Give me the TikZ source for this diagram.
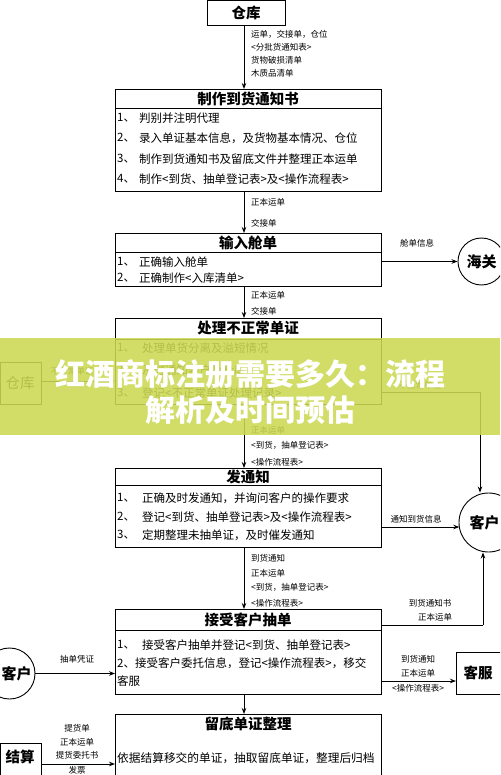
\documentclass[tikz,border=0pt]{standalone}
\usepackage{fontspec}
\setmainfont{Noto Sans CJK SC}
\usetikzlibrary{arrows.meta}
\definecolor{banner}{RGB}{203,217,82}
\tikzset{
  box/.style={draw=black, line width=0.9pt, inner sep=0pt, anchor=north west},
  ttl/.style={font=\bfseries\fontsize{14.5}{16}\selectfont, inner sep=0pt},
  itm/.style={font=\fontsize{11.5}{13}\selectfont, anchor=west, inner sep=0pt},
  lbl/.style={font=\fontsize{8.5}{10}\selectfont, anchor=west, inner sep=0pt},
  clbl/.style={font=\fontsize{8.5}{10}\selectfont, inner sep=0pt},
  circ/.style={draw=black, line width=0.9pt, circle, inner sep=0pt, font=\bfseries\fontsize{15}{16}\selectfont},
  arr/.style={draw=black, line width=0.9pt, -{Stealth[length=6pt,width=4.5pt]}},
  ln/.style={draw=black, line width=0.9pt},
  bantxt/.style={text=white, font=\bfseries\fontsize{30}{32}\selectfont, inner sep=0pt}
}
\begin{document}
\begin{tikzpicture}[x=1pt,y=-1pt]
\useasboundingbox (0,0) rectangle (500,775);
\clip (0,0) rectangle (500,775);
\fill[white] (0,0) rectangle (500,775);

% top warehouse
\node[box, minimum width=78pt, minimum height=24.5pt] (ck) at (207,0.5) {};
\node[ttl] at (246,13) {仓库};

% box 2
\node[box, minimum width=266pt, minimum height=102pt] (b2) at (115,89) {};
\draw[ln] (115,108) -- (381,108);
\node[ttl] at (248,98.5) {制作到货通知书};
\node[itm] at (117,118) {1、};\node[itm] at (139,118) {判别并注明代理};
\node[itm] at (117,138) {2、};\node[itm] at (139,138) {录入单证基本信息，及货物基本情况、仓位};
\node[itm] at (117,159) {3、};\node[itm] at (139,159) {制作到货通知书及留底文件并整理正本运单};
\node[itm] at (117,179) {4、};\node[itm] at (139,179) {制作<到货、抽单登记表>及<操作流程表>};

\draw[arr] (ck.south -| 244,0) -- (b2.north -| 244,0);
\node[lbl] at (251,34) {运单，交接单，仓位};
\node[lbl] at (251,47) {<分批货通知表>};
\node[lbl] at (251,60) {货物破损清单};
\node[lbl] at (251,73) {木质品清单};

% box 3
\node[box, minimum width=266pt, minimum height=53pt] (b3) at (115,233) {};
\draw[ln] (115,252) -- (381,252);
\node[ttl] at (248,242.5) {输入舱单};
\node[itm] at (117,262) {1、};\node[itm] at (139,262) {正确输入舱单};
\node[itm] at (117,278) {2、};\node[itm] at (139,278) {正确制作<入库清单>};

\draw[arr] (b2.south -| 244,0) -- (b3.north -| 244,0);
\node[lbl] at (251,202) {正本运单};
\node[lbl] at (251,223) {交接单};

% customs
\node[circ, minimum size=47pt] (hg) at (481.5,261.5) {海关};
\draw[arr] (b3.east |- hg.west) -- (hg.west);
\node[clbl] at (417,243) {舱单信息};

% box 4
\node[box, minimum width=266pt, minimum height=86pt] (b4) at (115,318) {};
\draw[ln] (115,339) -- (381,339);
\node[ttl] at (248,328.5) {处理不正常单证};
\node[itm] at (117,348) {1、};\node[itm] at (142,348) {处理单货分离及溢短情况};
\node[itm] at (117,370) {2、};\node[itm] at (142,370) {及时通知客户及仓库};
\node[itm] at (117,393) {3、};\node[itm] at (142,393) {登记<不正常单证处理记录>};

\draw[arr] (b3.south -| 244,0) -- (b4.north -| 244,0);
\node[lbl] at (251,295) {正本运单};
\node[lbl] at (251,311) {交接单};

% left warehouse
\node[box, minimum width=41pt, minimum height=42pt] (ck2) at (-0.5,362) {};
\node[ttl, font=\fontsize{14.5}{16}\selectfont] at (20,383) {仓库};
\draw[arr] (ck2.east |- 0,381) -- (b4.west |- 0,381);
\node[clbl] at (72,371) {不正常单证};

% box 5
\node[box, minimum width=266pt, minimum height=79pt] (b5) at (115,468) {};
\draw[ln] (115,485) -- (381,485);
\node[ttl] at (248,476.5) {发通知};
\node[itm] at (117,498) {1、};\node[itm] at (142,498) {正确及时发通知，并询问客户的操作要求};
\node[itm] at (117,517) {2、};\node[itm] at (142,517) {登记<到货、抽单登记表>及<操作流程表>};
\node[itm] at (117,535) {3、};\node[itm] at (142,535) {定期整理未抽单证，及时催发通知};

\draw[arr] (b4.south -| 244,0) -- (b5.north -| 244,0);
\node[lbl] at (251,430) {正本运单};
\node[lbl] at (251,445) {<到货，抽单登记表>};
\node[lbl] at (251,462) {<操作流程表>};

% customer right
\node[circ, minimum size=59pt] (kh) at (488.5,522.5) {\hspace*{-8pt}客户};
\coordinate (kr1) at (480,392);
\draw[ln] (b4.east |- kr1) -- (kr1);
\draw[arr] (kr1) -- (kr1 |- kh.north);
\node[clbl] at (420,385) {不正常单证};
\draw[arr] (b5.east |- 0,527) -- (459.3,527);
\node[clbl] at (416,519) {通知到货信息};

% box 6
\node[box, minimum width=266pt, minimum height=85pt] (b6) at (115,609) {};
\draw[ln] (115,630) -- (381,630);
\node[ttl] at (248,619.5) {接受客户抽单};
\node[itm] at (117,645) {1、};\node[itm] at (142,645) {接受客户抽单并登记<到货、抽单登记表>};
\node[itm] at (117,663) {2、接受客户委托信息，登记<操作流程表>，移交};
\node[itm] at (117,681) {客服};

\draw[arr] (b5.south -| 244,0) -- (b6.north -| 244,0);
\node[lbl] at (251,558) {到货通知};
\node[lbl] at (251,573) {正本运单};
\node[lbl] at (251,587) {<到货，抽单登记表>};
\node[lbl] at (251,603) {<操作流程表>};

\coordinate (kr2) at (483,625);
\draw[ln] (b6.east |- kr2) -- (kr2);
\draw[arr] (kr2) -- (kr2 |- kh.south);
\node[clbl] at (430,603) {到货通知书};
\node[clbl] at (435,617) {正本运单};

% customer left
\node[circ, minimum size=51pt] (kh2) at (9.5,673.5) {\hspace*{14pt}客户};
\draw[arr] (kh2.east) -- (b6.west |- kh2.east);
\node[clbl] at (77,659) {抽单凭证};

% customer service
\node[box, minimum width=50pt, minimum height=42pt] (kf) at (456,652) {};
\node[ttl] at (478,673) {客服};
\draw[arr] (b6.east |- 0,681) -- (kf.west |- 0,681);
\node[clbl] at (418,659) {到货通知};
\node[clbl] at (418,673) {正本运单};
\node[clbl] at (418,688) {<操作流程表>};

% box 7
\node[box, minimum width=266pt, minimum height=70pt] (b7) at (115,714) {};
\node[ttl] at (248,724) {留底单证整理};
\node[itm, font=\fontsize{11.7}{13}\selectfont] at (117,758) {依据结算移交的单证，抽取留底单证，整理后归档};
\draw[arr] (b6.south -| 244,0) -- (b7.north -| 244,0);

% settlement
\node[box, minimum width=41pt, minimum height=40pt] (js) at (-0.5,743) {};
\node[ttl] at (20,757) {结算};
\draw[arr] (js.east |- 0,764) -- (b7.west |- 0,764);
\node[clbl] at (77,728) {提货单};
\node[clbl] at (77,742) {正本运单};
\node[clbl] at (77,755) {提货委托书};
\node[clbl] at (77,770) {发票};

% banner
\fill[banner, fill opacity=0.88] (0,338) rectangle (500,435);
\node[bantxt] (bt1) at (250,374) {红酒商标注册需要多久：流程};
\node[bantxt] (bt2) at (250,410) {解析及时间预估};
\end{tikzpicture}
\end{document}
